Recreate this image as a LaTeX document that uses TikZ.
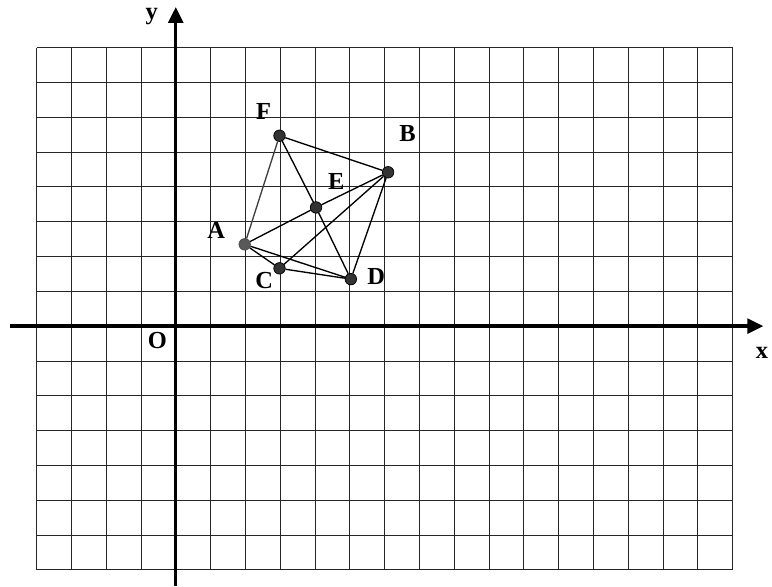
\documentclass[tikz,border=0pt]{standalone}
\usepackage{fontspec}
\setmainfont{Liberation Serif}
\usepackage{tikz}
\usetikzlibrary{arrows.meta}

\begin{document}
\begin{tikzpicture}[
    pt/.style={circle,inner sep=0pt,minimum size=0.33cm,fill=black!80,draw=black,line width=0.6pt},
    lbl/.style={font=\fontsize{20}{22}\selectfont\bfseries},
    seg/.style={line width=1.1pt},
    axis/.style={line width=2.8pt,-{Triangle[length=13pt,width=12pt]}}
]
            \useasboundingbox (-5.05,-7.47) rectangle (17.13,9.37);

            % Grid
            \foreach \x in {-4,...,16}
            {
            \draw[line width=0.7pt, black!85] (\x,-7) -- (\x,8);
            }
            \foreach \y in {-7,...,8}
            {
            \draw[line width=0.7pt, black!85] (-4,\y) -- (16,\y);
            }

            % Axes
            \coordinate (xs) at (-4.76,0);
            \coordinate (xe) at (16.88,0);
            \coordinate (ys) at (0,-7.47);
            \coordinate (ye) at (0,9.17);
            \draw[axis] (xs) -- (xe);
            \draw[axis] (ys) -- (ye);
            \node[lbl] (lblx) at (16.84,-0.77) {x};
            \node[lbl] (lbly) at (-0.69,8.89) {y};
            \node[lbl] (lblO) at (-0.53,-0.40) {O};

            % Points
            \node[pt,fill=black!65,draw=black!70] (A) at (1.98,2.35) {};
            \node[pt] (B) at (6.1,4.42) {};
            \node[pt] (C) at (2.98,1.66) {};
            \node[pt] (D) at (5.03,1.35) {};
            \node[pt] (E) at (4.03,3.41) {};
            \node[pt] (F) at (2.98,5.47) {};

            % Segments
            \draw[seg, black!75] (F) -- (A);
            \draw[seg] (F) -- (B);
            \draw[seg] (F) -- (E);
            \draw[seg] (E) -- (D);
            \draw[seg] (A) -- (E);
            \draw[seg] (E) -- (B);
            \draw[seg] (A) -- (C);
            \draw[seg] (A) -- (D);
            \draw[seg] (C) -- (D);
            \draw[seg] (C) -- (B);
            \draw[seg] (B) -- (D);

            % Labels
            \node[lbl] (lblA) at (1.16,2.76) {A};
            \node[lbl] (lblB) at (6.66,5.54) {B};
            \node[lbl] (lblC) at (2.54,1.32) {C};
            \node[lbl] (lblD) at (5.76,1.42) {D};
            \node[lbl] (lblE) at (4.61,4.15) {E};
            \node[lbl] (lblF) at (2.52,6.16) {F};

        \end{tikzpicture}
\end{document}
